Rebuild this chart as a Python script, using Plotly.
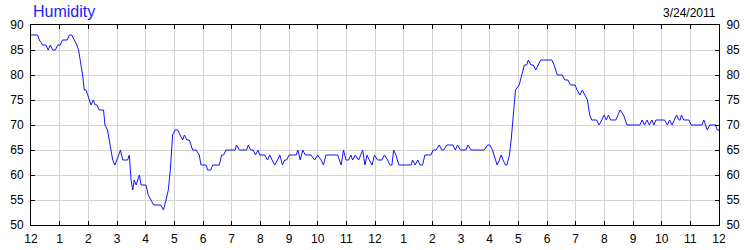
import plotly.graph_objects as go

# hours since midnight (3/24/2011) and relative humidity (%)
hours = [
    0.00, 0.23, 0.29, 0.41, 0.52, 0.60, 0.67, 0.76, 0.85, 0.93, 1.02, 1.10, 1.26, 1.34, 1.42,
    1.51, 1.60, 1.66, 1.72, 1.80, 1.86, 1.92, 1.98, 2.03, 2.09, 2.17, 2.24, 2.30, 2.38, 2.53,
    2.58, 2.67, 2.73, 2.79, 2.85, 2.93, 3.00, 3.12, 3.20, 3.37, 3.43, 3.49, 3.55, 3.60, 3.67,
    3.78, 3.84, 4.01, 4.09, 4.19, 4.28, 4.53, 4.62, 4.71, 4.79, 4.86, 4.94, 5.02, 5.12, 5.20,
    5.29, 5.35, 5.44, 5.52, 5.64, 5.76, 5.87, 5.93, 6.11, 6.16, 6.27, 6.34, 6.57, 6.65, 6.72,
    6.80, 7.12, 7.17, 7.27, 7.52, 7.58, 7.66, 7.75, 7.83, 7.92, 7.98, 8.16, 8.25, 8.33, 8.41,
    8.50, 8.60, 8.68, 8.77, 8.85, 8.92, 9.00, 9.25, 9.31, 9.39, 9.48, 9.57, 9.77, 9.89, 10.00,
    10.12, 10.20, 10.29, 10.70, 10.82, 10.90, 10.99, 11.08, 11.16, 11.22, 11.31, 11.43, 11.50,
    11.57, 11.65, 11.72, 11.80, 11.90, 11.98, 12.09, 12.24, 12.33, 12.44, 12.52, 12.59, 12.65,
    12.73, 12.83, 13.26, 13.31, 13.40, 13.49, 13.57, 13.66, 13.74, 13.95, 14.03, 14.13, 14.24,
    14.33, 14.40, 14.50, 14.71, 14.80, 14.88, 14.98, 15.17, 15.24, 15.35, 15.81, 15.93, 16.01,
    16.10, 16.16, 16.26, 16.34, 16.40, 16.47, 16.55, 16.60, 16.69, 16.75, 16.82, 16.90, 17.03,
    17.12, 17.21, 17.29, 17.35, 17.44, 17.52, 17.61, 17.70, 17.78, 18.17, 18.25, 18.36, 18.53,
    18.62, 18.73, 18.82, 18.98, 19.05, 19.15, 19.23, 19.32, 19.41, 19.49, 19.56, 19.73, 19.82,
    19.91, 19.99, 20.07, 20.14, 20.22, 20.40, 20.55, 20.67, 20.79, 21.24, 21.32, 21.40, 21.49,
    21.57, 21.66, 21.73, 21.80, 22.10, 22.20, 22.28, 22.36, 22.52, 22.60, 22.65, 22.69, 22.77,
    22.95, 23.03, 23.41, 23.47, 23.59, 23.68, 23.88, 23.94, 24.00,
]
humidity = [
    88, 88, 87, 86, 86, 85, 86, 85, 85, 86, 86, 87, 87, 88, 88,
    87, 86, 85, 83, 80, 77, 77, 76, 75, 74, 75, 74, 74, 73, 73,
    70, 69, 67, 65, 63, 62, 63, 65, 63, 63, 64, 59, 57, 59, 58,
    60, 58, 58, 56, 55, 54, 54, 53, 55, 57, 61, 68, 69, 69, 68,
    67, 68, 67, 67, 65, 65, 64, 62, 62, 61, 61, 62, 62, 64, 64,
    65, 65, 66, 65, 65, 66, 65, 65, 64, 65, 64, 64, 63, 64, 63,
    62, 63, 64, 62, 63, 63, 64, 64, 65, 63, 65, 64, 64, 63, 64,
    63, 62, 64, 64, 62, 65, 63, 63, 64, 63, 64, 63, 64,
    65, 62, 64, 63, 62, 64, 63, 63, 64, 63, 62, 62, 65,
    64, 62, 62, 63, 62, 63, 62, 62, 64, 64, 65, 65, 66,
    65, 65, 66, 66, 65, 66, 65, 65, 66, 65, 65, 66, 66,
    65, 64, 62, 63, 64, 63, 62, 62, 64, 67, 71, 77, 78,
    80, 82, 82, 83, 82, 82, 81, 82, 83, 83, 82, 80, 80,
    79, 79, 78, 78, 77, 76, 77, 76, 75, 72, 71, 71, 70,
    71, 72, 71, 72, 71, 71, 73, 72, 70, 70, 71, 70, 71,
    70, 71, 70, 71, 71, 70, 71, 70, 72, 71, 71, 72, 71,
    71, 70, 70, 71, 69, 70, 70, 69, 69,
]

tick_hours = list(range(0, 25))
tick_labels = ["12"] + [str(h) for h in range(1, 12)] + ["12"] + [str(h) for h in range(1, 12)] + ["12"]
y_ticks = [50, 55, 60, 65, 70, 75, 80, 85, 90]

title_text = "Humidity"
date_text = "3/24/2011"

FONT = "Liberation Sans, Arial, sans-serif"

fig = go.Figure()
fig.add_trace(go.Scatter(
    x=hours, y=humidity, mode="lines",
    line=dict(color="#1414ff", width=1),
    hoverinfo="skip", showlegend=False,
))
# invisible trace to carry the right-hand axis
fig.add_trace(go.Scatter(
    x=[hours[0]], y=[humidity[0]], yaxis="y2", mode="lines",
    line=dict(width=0), opacity=0, hoverinfo="skip", showlegend=False,
))

axis_common = dict(
    gridcolor="#d3d3d3", gridwidth=1,
    showline=True, linecolor="black", linewidth=1,
    ticks="inside", ticklen=4, tickcolor="black", tickwidth=1,
    tickfont=dict(family=FONT, size=12, color="black"),
    zeroline=False, fixedrange=True, automargin=False,
)

fig.update_layout(
    width=750, height=250,
    margin=dict(l=31, r=31, t=25, b=25, autoexpand=False),
    paper_bgcolor="white", plot_bgcolor="white",
    xaxis=dict(
        range=[0, 24], tickmode="array", tickvals=tick_hours, ticktext=tick_labels,
        mirror="ticks", showgrid=True, ticklabelstandoff=3, **axis_common,
    ),
    yaxis=dict(
        range=[50, 90], tickmode="array", tickvals=y_ticks,
        mirror="ticks", showgrid=True, ticklabelstandoff=4, **axis_common,
    ),
    yaxis2=dict(
        range=[50, 90], tickmode="array", tickvals=y_ticks,
        overlaying="y", side="right", matches="y", showgrid=False,
        ticklabelstandoff=4, **axis_common,
    ),
    annotations=[
        dict(text=title_text, xref="paper", yref="paper", x=0.0, y=1.0,
             xanchor="left", yanchor="bottom", yshift=3, showarrow=False,
             font=dict(family=FONT, size=16, color="#2020ff")),
        dict(text=date_text, xref="paper", yref="paper", x=1.0, y=1.0,
             xanchor="right", yanchor="bottom", yshift=3, xshift=-1, showarrow=False,
             font=dict(family=FONT, size=12, color="black")),
    ],
)

fig.write_html("out.html")
